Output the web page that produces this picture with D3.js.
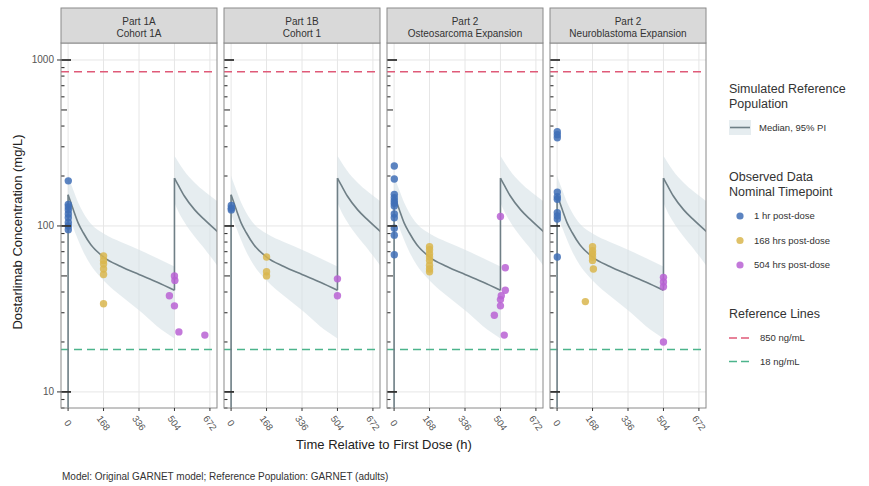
<!DOCTYPE html>
<html>
<head>
<meta charset="utf-8">
<script src="https://cdn.jsdelivr.net/npm/d3@7"></script>
<style>
  body { margin: 0; background: #fff; }
  svg { font-family: Arial, "Liberation Sans", sans-serif; }
</style>
</head>
<body>
<div id="vis"></div>
<script>
//-- Data
var stripLine1 = ["Part 1A", "Part 1B", "Part 2", "Part 2"];
var stripLine2 = ["Cohort 1A", "Cohort 1", "Osteosarcoma Expansion", "Neuroblastoma Expansion"];

var xTicks = [0, 168, 336, 504, 672];
var yTicks = [10, 100, 1000];

// simulated reference population (same for every panel)
var simTime   = [0, 0, 24, 48, 72, 108, 168, 250, 336, 420, 504, 504, 520, 550, 600, 650, 710];
var simMedian = [0, 154, 126, 104, 91, 77, 65, 57, 51, 46, 41, 194, 178, 152, 125, 108, 92];
var simLo     = [null, 118, 98, 82, 70, 58, 47, 38, 31, 25, 21, 138, 124, 106, 86, 72, 57];
var simHi     = [null, 200, 165, 138, 120, 103, 90, 80, 72, 64, 57, 265, 245, 215, 182, 160, 140];

// observed data per panel, [time (h), concentration]
var obs1hr = [
  [[1,187],[1,135],[1,130],[1,125],[1,118],[1,112],[1,105],[1,100],[1,95]],
  [[1,133],[1,128],[1,125]],
  [[1,230],[1,192],[1,155],[1,148],[1,142],[1,137],[1,132],[1,118],[1,112],[1,97],[1,88],[1,67]],
  [[1,370],[1,355],[1,340],[1,160],[1,150],[1,145],[1,120],[1,115],[1,110],[1,65]]
];
var obs168hr = [
  [[168,66],[168,62],[168,59],[168,55],[168,51],[168,34]],
  [[168,65],[168,53],[168,50]],
  [[168,75],[168,72],[168,68],[168,65],[168,62],[168,58],[168,55],[168,53]],
  [[168,75],[168,71],[168,68],[168,65],[168,62],[172,55],[134,35]]
];
var obs504hr = [
  [[504,50],[506,47],[480,38],[504,33],[525,23],[648,22]],
  [[504,48],[504,38]],
  [[504,114],[527,56],[527,41],[508,38],[504,36],[504,33],[475,29],[522,22]],
  [[504,49],[504,46],[504,43],[504,20]]
];

var groupNames  = ["1 hr post-dose", "168 hrs post-dose", "504 hrs post-dose"];
var groupColors = ["#3f6fb6", "#d9b64e", "#b862d4"];
var refValues = [850, 18];
var refNames  = ["850 ng/mL", "18 ng/mL"];
var refColors = ["#df5a78", "#4cb48c"];

//-- Setup
var width = 869;
var height = 486;
var panelLeft = [61, 224, 387, 550];
var panelW = 156;
var stripTop = 8, plotTop = 43, plotBottom = 408;

var svg = d3.select("#vis").append("svg")
  .attr("width", width).attr("height", height)
  .attr("viewBox", [0, 0, width, height]);

var x = d3.scaleLinear().domain([-33.6, 705.6]).range([0, panelW]);
var y = d3.scaleLog().domain([8, 1266]).range([plotBottom, plotTop]);

var sim = simTime.map(function(t, i) {
  return { t: t, m: simMedian[i], lo: simLo[i], hi: simHi[i] };
});

// split the simulation at each dose (repeated time) so the decay is smooth
var segments = [];
var cur = [];
sim.forEach(function(d, i) {
  if (i > 0 && d.t === sim[i - 1].t) { segments.push(cur); cur = []; }
  cur.push(d);
});
segments.push(cur);
var decays = segments.filter(function(s) { return s[0].lo != null; });
var doseJumps = [];
for (var s = 1; s < segments.length; s++) {
  doseJumps.push([segments[s - 1][segments[s - 1].length - 1], segments[s][0]]);
}

var area = d3.area()
  .curve(d3.curveMonotoneX)
  .x(function(d) { return x(d.t); })
  .y0(function(d) { return y(d.lo); })
  .y1(function(d) { return y(d.hi); });

var line = d3.line()
  .curve(d3.curveMonotoneX)
  .x(function(d) { return x(d.t); })
  .y(function(d) { return d.m > 0 ? y(d.m) : plotBottom + 5; });

var straight = d3.line()
  .x(function(d) { return x(d.t); })
  .y(function(d) { return d.m > 0 ? y(d.m) : plotBottom + 5; });

// log tick positions
var logTicks = [];
[1, 10, 100, 1000].forEach(function(dec) {
  for (var k = 1; k <= 9; k++) {
    var v = dec * k;
    if (v >= 8 && v <= 1266) logTicks.push({ v: v, k: k });
  }
});

panelLeft.forEach(function(left, i) {
  var g = svg.append("g").attr("transform", "translate(" + left + ",0)");

  g.append("clipPath").attr("id", "clip" + i)
    .append("rect").attr("x", 0).attr("y", plotTop).attr("width", panelW).attr("height", plotBottom - plotTop);

  g.append("rect").attr("x", 0).attr("y", plotTop).attr("width", panelW).attr("height", plotBottom - plotTop)
    .attr("fill", "#fff");

  // grid
  g.selectAll(".vg").data(xTicks).enter().append("line")
    .attr("x1", function(d) { return x(d); }).attr("x2", function(d) { return x(d); })
    .attr("y1", plotTop).attr("y2", plotBottom)
    .attr("stroke", "#e6e6e6").attr("stroke-width", 1);
  g.selectAll(".hg").data(yTicks).enter().append("line")
    .attr("x1", 0).attr("x2", panelW)
    .attr("y1", function(d) { return y(d); }).attr("y2", function(d) { return y(d); })
    .attr("stroke", "#e6e6e6").attr("stroke-width", 1);

  var c = g.append("g").attr("clip-path", "url(#clip" + i + ")");

  // reference lines
  c.selectAll(".ref").data(refValues).enter().append("line")
    .attr("x1", 0).attr("x2", panelW)
    .attr("y1", function(d) { return y(d); }).attr("y2", function(d) { return y(d); })
    .attr("stroke", function(d, j) { return refColors[j]; })
    .attr("stroke-width", 1.6)
    .attr("stroke-dasharray", "8,5");

  decays.forEach(function(seg) {
    c.append("path").datum(seg).attr("d", area)
      .attr("fill", "#d6e1e6").attr("opacity", 0.6);
  });
  decays.forEach(function(seg) {
    c.append("path").datum(seg).attr("d", line)
      .attr("fill", "none").attr("stroke", "#6f7f86").attr("stroke-width", 1.6);
  });
  doseJumps.forEach(function(pair) {
    c.append("path").datum(pair).attr("d", straight)
      .attr("fill", "none").attr("stroke", "#6f7f86").attr("stroke-width", 1.6);
  });

  [obs1hr, obs168hr, obs504hr].forEach(function(grp, j) {
    c.selectAll(".p" + j).data(grp[i]).enter().append("circle")
      .attr("cx", function(d) { return x(d[0]); })
      .attr("cy", function(d) { return y(d[1]); })
      .attr("r", 3.7)
      .attr("fill", groupColors[j])
      .attr("fill-opacity", 0.85);
  });

  // log ticks on the left
  g.selectAll(".lt").data(logTicks).enter().append("line")
    .attr("x1", 0)
    .attr("x2", function(d) { return d.k === 1 ? 10 : (d.k === 5 ? 6 : 3.5); })
    .attr("y1", function(d) { return y(d.v); }).attr("y2", function(d) { return y(d.v); })
    .attr("stroke", "#333")
    .attr("stroke-width", function(d) { return d.k === 1 ? 1.8 : 1.1; });

  // panel border
  g.append("rect").attr("x", 0).attr("y", plotTop).attr("width", panelW).attr("height", plotBottom - plotTop)
    .attr("fill", "none").attr("stroke", "#8a8a8a").attr("stroke-width", 1);

  // strip
  g.append("rect").attr("x", 0).attr("y", stripTop).attr("width", panelW).attr("height", plotTop - stripTop)
    .attr("fill", "#d9d9d9").attr("stroke", "#8a8a8a").attr("stroke-width", 1);
  g.append("text").attr("x", panelW / 2).attr("y", 24.5).attr("text-anchor", "middle")
    .attr("font-size", 10).attr("fill", "#333").text(stripLine1[i]);
  g.append("text").attr("x", panelW / 2).attr("y", 36.5).attr("text-anchor", "middle")
    .attr("font-size", 10).attr("fill", "#333").text(stripLine2[i]);

  // x axis ticks and labels
  g.selectAll(".xt").data(xTicks).enter().append("line")
    .attr("x1", function(d) { return x(d); }).attr("x2", function(d) { return x(d); })
    .attr("y1", plotBottom).attr("y2", plotBottom + 3)
    .attr("stroke", "#333");
  g.selectAll(".xl").data(xTicks).enter().append("text")
    .attr("transform", function(d) { return "translate(" + x(d) + "," + (plotBottom + 15) + ") rotate(55)"; })
    .attr("text-anchor", "middle").attr("dy", "0.35em")
    .attr("font-size", 9.5).attr("fill", "#555")
    .text(function(d) { return d; });
});

// y axis on first panel
var ya = svg.append("g").attr("transform", "translate(" + panelLeft[0] + ",0)");
ya.selectAll("line").data(yTicks).enter().append("line")
  .attr("x1", -4).attr("x2", 0)
  .attr("y1", function(d) { return y(d); }).attr("y2", function(d) { return y(d); })
  .attr("stroke", "#333");
ya.selectAll("text").data(yTicks).enter().append("text")
  .attr("x", -7).attr("y", function(d) { return y(d); }).attr("dy", "0.35em")
  .attr("text-anchor", "end").attr("font-size", 10).attr("fill", "#555")
  .text(function(d) { return d; });

// titles
svg.append("text").attr("transform", "translate(22,232) rotate(-90)")
  .attr("text-anchor", "middle").attr("font-size", 13).attr("fill", "#222")
  .text("Dostarlimab Concentration (mg/L)");
svg.append("text").attr("x", 384).attr("y", 449)
  .attr("text-anchor", "middle").attr("font-size", 13).attr("fill", "#222")
  .text("Time Relative to First Dose (h)");
svg.append("text").attr("x", 62).attr("y", 480)
  .attr("font-size", 10).attr("fill", "#333")
  .text("Model: Original GARNET model; Reference Population: GARNET (adults)");

//-- Legend
var lg = svg.append("g").attr("transform", "translate(729,0)");
function legendTitle(lines, y0) {
  lines.forEach(function(s, k) {
    lg.append("text").attr("x", 0).attr("y", y0 + k * 14.5)
      .attr("font-size", 12.5).attr("fill", "#333").text(s);
  });
}
legendTitle(["Simulated Reference", "Population"], 93);
lg.append("rect").attr("x", 0).attr("y", 120).attr("width", 22).attr("height", 15)
  .attr("fill", "#d6e1e6").attr("opacity", 0.6);
lg.append("line").attr("x1", 1).attr("x2", 21).attr("y1", 127.5).attr("y2", 127.5)
  .attr("stroke", "#6f7f86").attr("stroke-width", 1.6);
lg.append("text").attr("x", 30).attr("y", 127.5).attr("dy", "0.35em")
  .attr("font-size", 9.5).attr("fill", "#333").text("Median, 95% PI");

legendTitle(["Observed Data", "Nominal Timepoint"], 181);
groupNames.forEach(function(s, j) {
  var yy = 216 + j * 24.5;
  lg.append("circle").attr("cx", 11).attr("cy", yy).attr("r", 3.6)
    .attr("fill", groupColors[j]).attr("fill-opacity", 0.85);
  lg.append("text").attr("x", 25).attr("y", yy).attr("dy", "0.35em")
    .attr("font-size", 9.5).attr("fill", "#333").text(s);
});

legendTitle(["Reference Lines"], 318);
refNames.forEach(function(s, j) {
  var yy = 338 + j * 23.5;
  lg.append("line").attr("x1", 0).attr("x2", 22).attr("y1", yy).attr("y2", yy)
    .attr("stroke", refColors[j]).attr("stroke-width", 1.6).attr("stroke-dasharray", "8,4");
  lg.append("text").attr("x", 31).attr("y", yy).attr("dy", "0.35em")
    .attr("font-size", 9.5).attr("fill", "#333").text(s);
});
</script>
</body>
</html>
